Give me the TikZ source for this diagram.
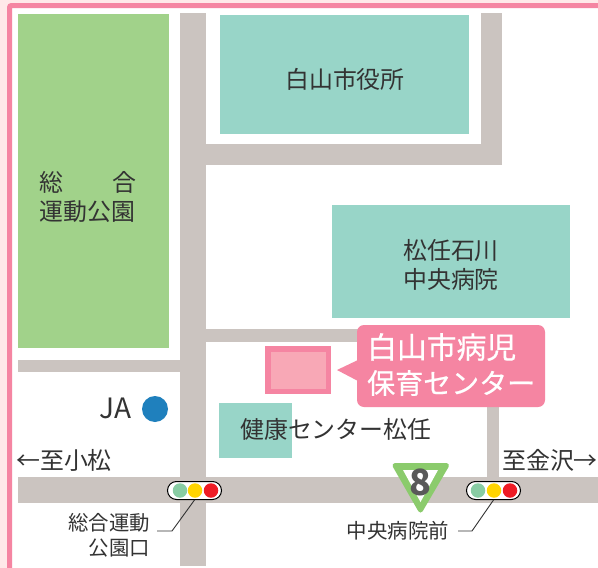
\documentclass[tikz,border=0pt]{standalone}
\usepackage{fontspec}
\setmainfont{Noto Sans CJK JP}
\definecolor{road}{HTML}{CBC4C0}
\definecolor{parkg}{HTML}{A1D28A}
\definecolor{teal}{HTML}{98D5C8}
\definecolor{pinkb}{HTML}{F585A2}
\definecolor{pinkf}{HTML}{F8A8B6}
\definecolor{palep}{HTML}{FFE9E9}
\definecolor{txt}{HTML}{333333}
\definecolor{sigg}{HTML}{88CCA3}
\definecolor{sigy}{HTML}{FFD400}
\definecolor{sigr}{HTML}{EE1C25}
\definecolor{blueja}{HTML}{1F80BD}
\definecolor{greent}{HTML}{8BCB6C}
\tikzset{x=1pt,y=-1pt,
 roadbox/.style={fill=road,draw=none},
 tealbox/.style={fill=teal,draw=none},
 label/.style={text=txt,font=\fontsize{23.9}{29.5}\selectfont,align=center,inner sep=0pt},
 smalllabel/.style={text=txt,font=\fontsize{20.4}{24}\selectfont,inner sep=0pt},
 signalbox/.style={draw=black,line width=1pt,fill=white,rounded corners=9pt,minimum width=54pt,minimum height=18pt,inner sep=0pt},
 lamp/.style={circle,minimum size=14.5pt,inner sep=0pt},
 leader/.style={draw=txt,line width=.9pt}}
\begin{document}
\begin{tikzpicture}
\useasboundingbox (0,0) rectangle (598,568);
\fill[palep] (0,0) rectangle (598,568);
\fill[white] (10,5) rectangle (598,568);
\draw[pinkb,line width=5pt,rounded corners=2pt] (9.5,568) -- (9.5,5.5) -- (598,5.5);
% roads
\fill[roadbox] (180,13) rectangle (206,566);
\fill[roadbox] (206,144) rectangle (502,165);
\fill[roadbox] (481,13) rectangle (502,144);
\fill[roadbox] (206,329) rectangle (370,342);
\fill[roadbox] (18,360) rectangle (180,372);
\fill[roadbox] (487,400) rectangle (499,477);
\fill[roadbox] (18,477) rectangle (598,503);
% areas
\node[fill=parkg,minimum width=151pt,minimum height=334pt,inner sep=0pt,anchor=north west] (park) at (18,14) {};
\node[tealbox,minimum width=249pt,minimum height=119pt,inner sep=0pt,anchor=north west] (cityhall) at (220,15) {};
\node[tealbox,minimum width=238pt,minimum height=113pt,inner sep=0pt,anchor=north west] (hospital) at (332,205) {};
\node[tealbox,minimum width=73pt,minimum height=55pt,inner sep=0pt,anchor=north west] (kenko) at (219,403) {};
\node[label] (cityhalltxt) at (345,79) {白山市役所};
\node[label] (hosptxt) at (451,265) {松任石川\\中央病院};
\node[label,align=left] (parktxt) at (88,197) {総\hspace{49pt}合\\運動公園};
\node[label,anchor=west] (kenkotxt) at (240,429) {健康センター松任};
% target building
\node[fill=pinkf,draw=pinkb,line width=5.5pt,minimum width=60.5pt,minimum height=42.5pt,inner sep=0pt] (bldg) at (298,370) {};
% callout
\fill[pinkb,rounded corners=7pt] (357,325) rectangle (545,407);
\fill[pinkb] (358,360) -- (337,370) -- (358,381) -- cycle;
\node[text=white,font=\fontsize{29.8}{37}\selectfont\addfontfeature{FakeBold=0.6},inner sep=0pt,anchor=west] (calltxta) at (367,347) {白山市病児};
\node[text=white,font=\fontsize{28}{37}\selectfont\addfontfeature{FakeBold=0.6},inner sep=0pt,anchor=west] (calltxtb) at (367,383) {保育センター};
% JA
\node[text=txt,font=\fontsize{28}{28}\selectfont,inner sep=0pt] (ja) at (115.5,408) {JA};
\node[circle,fill=blueja,minimum size=26pt,inner sep=0pt] (jadot) at (155,409) {};
% direction labels
\node[label,anchor=west] (left) at (16,460) {←至小松};
\node[label,anchor=east] (right) at (598,460) {至金沢→};
% route 8
\fill[greent,draw=greent,line width=5pt,line join=round] (395,465.5) -- (446.5,465.5) -- (420.5,510) -- cycle;
\fill[white] (403,470) -- (438,470) -- (420.5,502) -- cycle;
\node[text=black!65,font=\fontsize{36}{36}\selectfont\bfseries,inner sep=0pt] (eight) at (420.5,482) {8};
% signals
\node[signalbox] (sigA) at (194.5,490.5) {};
\node[lamp,fill=sigg] (a1) at (180,490.5) {};
\node[lamp,fill=sigy] (a2) at (195,490.5) {};
\node[lamp,fill=sigr] (a3) at (211,490.5) {};
\node[signalbox] (sigB) at (493.5,490.5) {};
\node[lamp,fill=sigg] (b1) at (478,490.5) {};
\node[lamp,fill=sigy] (b2) at (494,490.5) {};
\node[lamp,fill=sigr] (b3) at (510,490.5) {};
% labels
\node[smalllabel,anchor=east] (la) at (150,523) {総合運動};
\node[smalllabel,anchor=east] (lb) at (150,548) {公園口};
\node[smalllabel,anchor=east] (lc) at (449,531) {中央病院前};
\coordinate (ka) at (172,531);
\coordinate (kb) at (472,531);
\draw[leader] (157,531) -- (ka) -- (sigA.south);
\draw[leader] (458,531) -- (kb) -- (sigB.south);
\end{tikzpicture}
\end{document}
